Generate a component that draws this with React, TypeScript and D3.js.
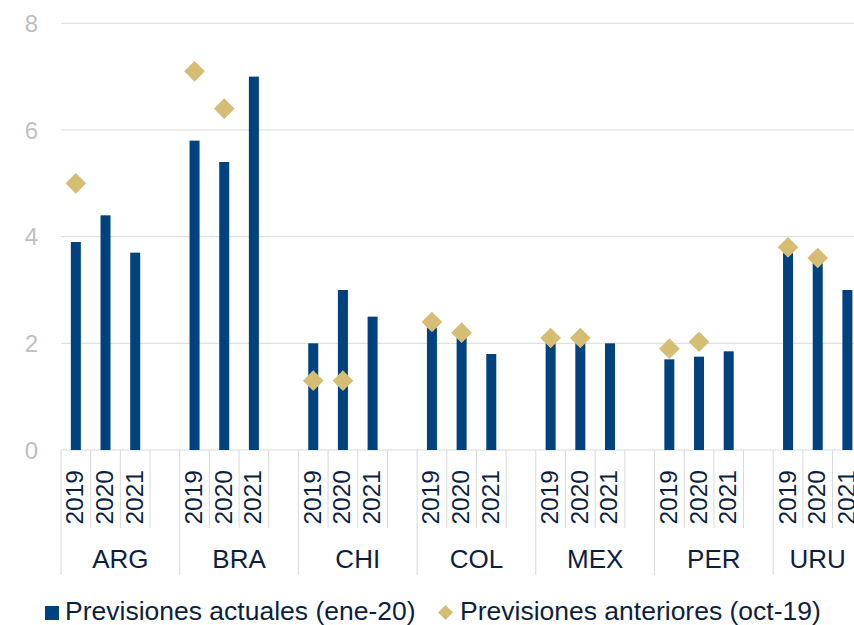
import React from "react";
import * as d3 from "d3";

const countries = ["ARG", "BRA", "CHI", "COL", "MEX", "PER", "URU"];
const years = ["2019", "2020", "2021"];
const actual: number[][] = [
  [3.9, 4.4, 3.7],
  [5.8, 5.4, 7.0],
  [2.0, 3.0, 2.5],
  [2.3, 2.1, 1.8],
  [2.0, 2.0, 2.0],
  [1.7, 1.75, 1.85],
  [3.7, 3.5, 3.0],
];
const previous: (number | null)[][] = [
  [5.0, null, null],
  [7.1, 6.4, null],
  [1.3, 1.3, null],
  [2.4, 2.2, null],
  [2.1, 2.1, null],
  [1.9, 2.03, null],
  [3.8, 3.6, null],
];
const yTicks = [0, 2, 4, 6, 8];
const legendLabels = ["Previsiones actuales (ene-20)", "Previsiones anteriores (oct-19)"];

const W = 854;
const H = 625;
const left = 61;
const slotW = 29.675;
const BAR = "#00427F";
const GOLD = "#D6BD74";
const GRID = "#D9D9D9";
const TEXT = "#0D1F40";
const font = "'Liberation Sans', Arial, sans-serif";

export default function App() {
  const y = d3.scaleLinear().domain([0, 8]).range([450, 23.3]);
  // slots per country: 3 years + a blank separator (except after the last)
  const groupSlots = countries.map((c, ci) =>
    ci < countries.length - 1 ? [...years, "_"] : [...years]
  );
  const allSlots = groupSlots.flatMap((s, ci) => s.map((k) => `${countries[ci]}-${k}`));
  const x = d3
    .scaleBand<string>()
    .domain(allSlots)
    .range([left, left + slotW * allSlots.length]);
  const bw = x.bandwidth();
  const barW = 10;
  const diamond = d3.symbol().type(d3.symbolSquare).size(214)();

  return (
    <svg
      width={W}
      height={H}
      style={{ position: "absolute", left: 0, top: 0, background: "#fff" }}
      fontFamily={font}
    >
      {yTicks.map((t) => (
        <g key={t}>
          <line x1={left} x2={W} y1={y(t)} y2={y(t)} stroke={GRID} strokeWidth={1} />
          <text
            x={38}
            y={y(t)}
            dy="0.36em"
            textAnchor="end"
            fontSize={24}
            fill="#BFBFBF"
          >
            {t}
          </text>
        </g>
      ))}

      {countries.map((c, ci) => {
        const slots = groupSlots[ci];
        const gx = x(`${c}-${slots[0]}`)!;
        const gw = bw * slots.length;
        return (
          <g key={c}>
            {slots.map((s, si) => {
              const sx = x(`${c}-${s}`)!;
              return (
                <line
                  key={s}
                  x1={sx}
                  x2={sx}
                  y1={450}
                  y2={si === 0 ? 575 : 528}
                  stroke={GRID}
                  strokeWidth={1}
                />
              );
            })}
            {years.map((yr, yi) => {
              const cx = x(`${c}-${yr}`)! + bw / 2;
              const v = actual[ci][yi];
              return (
                <g key={yr}>
                  <rect
                    x={cx - barW / 2}
                    y={y(v)}
                    width={barW}
                    height={y(0) - y(v)}
                    fill={BAR}
                  />
                  <text
                    transform={`translate(${cx - 1},470) rotate(-90)`}
                    textAnchor="end"
                    dominantBaseline="central"
                    fontSize={24.5}
                    fill={TEXT}
                  >
                    {yr}
                  </text>
                </g>
              );
            })}
            {years.map((yr, yi) => {
              const p = previous[ci][yi];
              if (p == null) return null;
              const cx = x(`${c}-${yr}`)! + bw / 2;
              return (
                <path
                  key={"p" + yr}
                  d={diamond!}
                  transform={`translate(${cx},${y(p)}) rotate(45)`}
                  fill={GOLD}
                />
              );
            })}
            <text
              x={gx + gw / 2}
              y={568}
              textAnchor="middle"
              fontSize={26}
              fill={TEXT}
            >
              {c}
            </text>
          </g>
        );
      })}

      <g>
        <rect x={45} y={606} width={14} height={14} fill={BAR} />
        <text x={65} y={620} fontSize={26.5} fill={TEXT}>
          {legendLabels[0]}
        </text>
        <path
          d={d3.symbol().type(d3.symbolSquare).size(110)()!}
          transform={`translate(445.5,612.5) rotate(45)`}
          fill={GOLD}
        />
        <text x={460} y={620} fontSize={26.5} fill={TEXT}>
          {legendLabels[1]}
        </text>
      </g>
    </svg>
  );
}
